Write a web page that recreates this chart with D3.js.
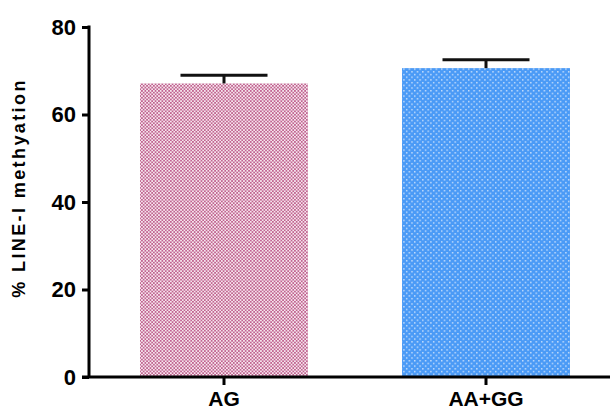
<!DOCTYPE html>
<html><head><meta charset="utf-8">
<script src="https://cdn.jsdelivr.net/npm/d3@7"></script>
<style>body{margin:0;background:#fff}svg{display:block}</style>
</head><body><svg id="c" width="610" height="416"></svg>
<script>
const categories = ["AG", "AA+GG"];
const means = [67.1, 70.6];
const errors = [1.9, 1.9];
const yTicks = [0, 20, 40, 60, 80];
const yLabel = "% LINE-I methyation";

const svg = d3.select("#c");
const x = d3.scaleBand().domain(categories).range([93, 617]).paddingInner(0.359).paddingOuter(0.1795);
const y = d3.scaleLinear().domain([0, 80]).range([377, 27]);

const defs = svg.append("defs");
const p1 = defs.append("pattern").attr("id","pk").attr("patternUnits","userSpaceOnUse").attr("width",3.4).attr("height",3.4);
p1.append("rect").attr("width",3.4).attr("height",3.4).attr("fill","#f6e6ee");
p1.append("rect").attr("width",1.7).attr("height",1.7).attr("fill","#c0628f");
p1.append("rect").attr("x",1.7).attr("y",1.7).attr("width",1.7).attr("height",1.7).attr("fill","#c0628f");
const p2 = defs.append("pattern").attr("id","bl").attr("patternUnits","userSpaceOnUse").attr("width",5.4).attr("height",5.4);
p2.append("rect").attr("width",5.4).attr("height",5.4).attr("fill","#4a9af6");
p2.append("rect").attr("x",1).attr("y",1).attr("width",1.3).attr("height",1.3).attr("fill","#e6f0fd");
p2.append("rect").attr("x",3.7).attr("y",3.7).attr("width",1.3).attr("height",1.3).attr("fill","#e6f0fd");
const fills = ["url(#pk)", "url(#bl)"];

// bars
svg.selectAll("rect.bar").data(categories).join("rect").attr("class","bar")
  .attr("x", d => x(d)).attr("width", x.bandwidth())
  .attr("y", (d,i) => y(means[i])).attr("height", (d,i) => y(0) - y(means[i]))
  .attr("fill", (d,i) => fills[i]);

// error bars
const eb = svg.append("g").attr("stroke","#111").attr("stroke-width",3);
categories.forEach((c,i) => {
  const cx = x(c) + x.bandwidth()/2;
  eb.append("line").attr("x1",cx).attr("x2",cx).attr("y1",y(means[i])).attr("y2",y(means[i]+errors[i]));
  eb.append("line").attr("x1",cx-43.5).attr("x2",cx+43.5).attr("y1",y(means[i]+errors[i])).attr("y2",y(means[i]+errors[i]));
});

// y axis
const ya = svg.append("g").attr("transform","translate(89,0)")
  .call(d3.axisLeft(y).tickValues(yTicks).tickSize(7).tickPadding(6).tickSizeOuter(0));
ya.select(".domain").attr("stroke","#000").attr("stroke-width",3).attr("d","M0,"+(y(80)-1.5)+"V"+y(0));
ya.selectAll(".tick line").attr("stroke","#000").attr("stroke-width",3);
ya.selectAll(".tick text").attr("font-family","'Liberation Sans', Arial, sans-serif").attr("font-weight","bold").attr("font-size",22).attr("fill","#000");

// x axis
const xa = svg.append("g").attr("transform","translate(0,377)")
  .call(d3.axisBottom(x).tickSize(8).tickPadding(6).tickSizeOuter(0));
xa.select(".domain").attr("stroke","#000").attr("stroke-width",3).attr("d","M82,0H610");
xa.selectAll(".tick line").attr("stroke","#000").attr("stroke-width",3);
xa.selectAll(".tick text").attr("font-family","'Liberation Sans', Arial, sans-serif").attr("font-weight","bold").attr("font-size",21).attr("fill","#000");

// y label
svg.append("text").attr("transform","translate(25,188) rotate(-90)")
  .attr("text-anchor","middle").attr("font-family","'Liberation Sans', Arial, sans-serif")
  .attr("font-weight","bold").attr("font-size",18).attr("letter-spacing","2.4px").attr("fill","#000").text(yLabel);
</script></body></html>
